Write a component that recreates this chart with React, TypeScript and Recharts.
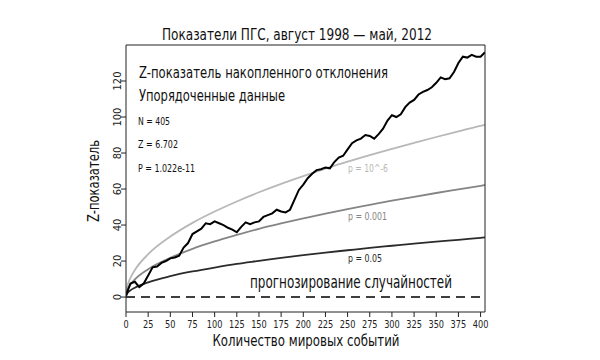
import { LineChart, Line, XAxis, YAxis, ReferenceLine } from "recharts";

const FONT = "'Liberation Sans Narrow', 'DejaVu Sans Condensed', 'Arial Narrow', sans-serif";

// x positions of the significance envelopes (number of events)
const envN = [0, 1, 5, 10, 25, 50, 75, 100, 125, 150, 175, 200, 225, 250, 275, 300, 325, 350, 375, 400, 405];
// p = 0.05 envelope
const envP05 = [0, 1.6, 3.7, 5.2, 8.2, 11.6, 14.2, 16.4, 18.4, 20.1, 21.8, 23.3, 24.7, 26.0, 27.3, 28.5, 29.7, 30.8, 31.8, 32.9, 33.1];
// p = 0.001 envelope
const envP001 = [0, 3.1, 6.9, 9.8, 15.5, 21.8, 26.8, 30.9, 34.5, 37.9, 40.9, 43.7, 46.4, 48.9, 51.2, 53.5, 55.7, 57.8, 59.8, 61.8, 62.2];
// p = 10^-6 envelope
const envP1e6 = [0, 4.8, 10.6, 15.0, 23.8, 33.6, 41.2, 47.5, 53.1, 58.2, 62.9, 67.2, 71.3, 75.2, 78.8, 82.3, 85.7, 88.9, 92.0, 95.1, 95.6];

// cumulative deviation, read every 5 events
const walkN = [
  0, 5, 10, 15, 20, 25, 30, 35, 40, 45, 50, 55, 60, 65, 70, 75, 80, 85, 90, 95,
  100, 105, 110, 115, 120, 125, 130, 135, 140, 145, 150, 155, 160, 165, 170, 175, 180, 185, 190, 195,
  200, 205, 210, 215, 220, 225, 230, 235, 240, 245, 250, 255, 260, 265, 270, 275, 280, 285, 290, 295,
  300, 305, 310, 315, 320, 325, 330, 335, 340, 345, 350, 355, 360, 365, 370, 375, 380, 385, 390, 395,
  400, 405,
];
const walkZ = [
  1, 7.5, 8.5, 5.5, 7.5, 12, 16.5, 17, 19, 20, 21.5, 22, 23, 27.5, 30, 35, 36.5, 38, 41, 40.5,
  42, 41, 40, 38.5, 37.5, 36, 39, 41.5, 40.5, 41.5, 42, 44.5, 45.5, 46.5, 48.5, 47.5, 47, 48.5, 54, 59.5,
  62.5, 66, 68.5, 70.5, 71, 72, 71.5, 75, 77.5, 78.5, 82, 85.5, 87, 88, 90, 89.5, 88, 90.5, 93.5, 98,
  101, 100, 101.5, 105.5, 108, 109.5, 112.5, 114, 115, 116.5, 119, 122, 121, 121.5, 125, 130, 133.5, 133, 134.5, 133.5,
  133.5, 136,
];

const xTicks = [0, 25, 50, 75, 100, 125, 150, 175, 200, 225, 250, 275, 300, 325, 350, 375, 400];
const yTicks = [0, 20, 40, 60, 80, 100, 120];

const walkData = walkN.map((n, i) => ({ n, z: walkZ[i] }));
const p05Data = envN.map((n, i) => ({ n, z: envP05[i] }));
const p001Data = envN.map((n, i) => ({ n, z: envP001[i] }));
const p1e6Data = envN.map((n, i) => ({ n, z: envP1e6[i] }));

function LeftTick({ x, y, payload }: { x: number; y: number; payload: { value: number } }) {
  const bx = x + 2;
  return (
    <text
      x={bx}
      y={y}
      transform={`rotate(-90 ${bx} ${y})`}
      textAnchor="middle"
      fontSize={11}
      fontFamily={FONT}
      fill="#222"
    >
      {payload.value}
    </text>
  );
}

function BottomTick({ x, y, payload }: { x: number; y: number; payload: { value: number } }) {
  const s = String(payload.value);
  return (
    <text
      x={x}
      y={y + 8.5}
      textAnchor="middle"
      fontSize={10}
      fontFamily={FONT}
      fill="#222"
      textLength={s.length * 5.2}
      lengthAdjust="spacingAndGlyphs"
    >
      {s}
    </text>
  );
}

// text squeezed to the width measured on the reference
function T({
  x,
  y,
  w,
  size,
  color = "#111",
  anchor = "start",
  rotate,
  children,
}: {
  x: number;
  y: number;
  w: number;
  size: number;
  color?: string;
  anchor?: "start" | "middle";
  rotate?: number;
  children: string;
}) {
  return (
    <text
      x={x}
      y={y}
      fontSize={size}
      fill={color}
      textAnchor={anchor}
      textLength={w}
      lengthAdjust="spacingAndGlyphs"
      transform={rotate ? `rotate(${rotate} ${x} ${y})` : undefined}
    >
      {children}
    </text>
  );
}

export default function App() {
  return (
    <div style={{ position: "absolute", left: 0, top: 0, width: 600, height: 360, background: "#fff" }}>
      <LineChart width={600} height={360} margin={{ top: 35, right: 105, bottom: 18, left: 86 }}>
        <XAxis
          xAxisId="bottom"
          dataKey="n"
          type="number"
          domain={[0, 405]}
          ticks={xTicks}
          interval={0}
          allowDataOverflow
          height={30}
          tickSize={5}
          tickMargin={2}
          stroke="#222"
          tick={BottomTick}
        />
        <XAxis
          xAxisId="top"
          orientation="top"
          dataKey="n"
          type="number"
          domain={[0, 405]}
          ticks={xTicks}
          interval={0}
          allowDataOverflow
          height={10}
          tickSize={5}
          tick={false}
          stroke="#222"
        />
        <YAxis
          yAxisId="left"
          type="number"
          domain={[-8.3, 140]}
          ticks={yTicks}
          interval={0}
          allowDataOverflow
          width={40}
          tickSize={5}
          tickMargin={2}
          stroke="#222"
          tick={LeftTick}
        />
        <YAxis
          yAxisId="right"
          orientation="right"
          type="number"
          domain={[-8.3, 140]}
          ticks={yTicks}
          interval={0}
          allowDataOverflow
          width={10}
          tickSize={5}
          tick={false}
          stroke="#222"
        />
        <ReferenceLine
          xAxisId="bottom"
          yAxisId="left"
          y={0}
          stroke="#000"
          strokeWidth={1.5}
          strokeDasharray="9 6"
        />
        <Line
          xAxisId="bottom"
          yAxisId="left"
          data={p1e6Data}
          dataKey="z"
          type="monotone"
          stroke="#b8b8b8"
          strokeWidth={1.8}
          dot={false}
          isAnimationActive={false}
        />
        <Line
          xAxisId="bottom"
          yAxisId="left"
          data={p001Data}
          dataKey="z"
          type="monotone"
          stroke="#858585"
          strokeWidth={1.8}
          dot={false}
          isAnimationActive={false}
        />
        <Line
          xAxisId="bottom"
          yAxisId="left"
          data={p05Data}
          dataKey="z"
          type="monotone"
          stroke="#2b2b2b"
          strokeWidth={1.8}
          dot={false}
          isAnimationActive={false}
        />
        <Line
          xAxisId="bottom"
          yAxisId="left"
          data={walkData}
          dataKey="z"
          type="linear"
          stroke="#000"
          strokeWidth={2}
          dot={false}
          isAnimationActive={false}
        />
      </LineChart>
      <svg
        width={600}
        height={360}
        style={{ position: "absolute", left: 0, top: 0, pointerEvents: "none" }}
        fontFamily={FONT}
      >
        <T x={297} y={40} w={270} size={16} anchor="middle">Показатели ПГС, август 1998 — май, 2012</T>
        <T x={306} y={346} w={187} size={15.5} anchor="middle">Количество мировых событий</T>
        <T x={99} y={181} w={82} size={16} anchor="middle" rotate={-90}>Z-показатель</T>
        <T x={139} y={78} w={249} size={16}>Z-показатель накопленного отклонения</T>
        <T x={139} y={101} w={146} size={16}>Упорядоченные данные</T>
        <T x={138} y={125} w={32} size={11}>N = 405</T>
        <T x={138} y={148} w={40} size={11}>Z = 6.702</T>
        <T x={138} y={172} w={57} size={11}>P = 1.022e-11</T>
        <T x={348} y={172} w={40} size={11} color="#b8b8b8">p = 10^-6</T>
        <T x={348} y={220} w={39} size={11} color="#858585">p = 0.001</T>
        <T x={348} y={262} w={34} size={11} color="#2b2b2b">p = 0.05</T>
        <T x={250} y={288} w={202} size={17}>прогнозирование случайностей</T>
      </svg>
    </div>
  );
}
